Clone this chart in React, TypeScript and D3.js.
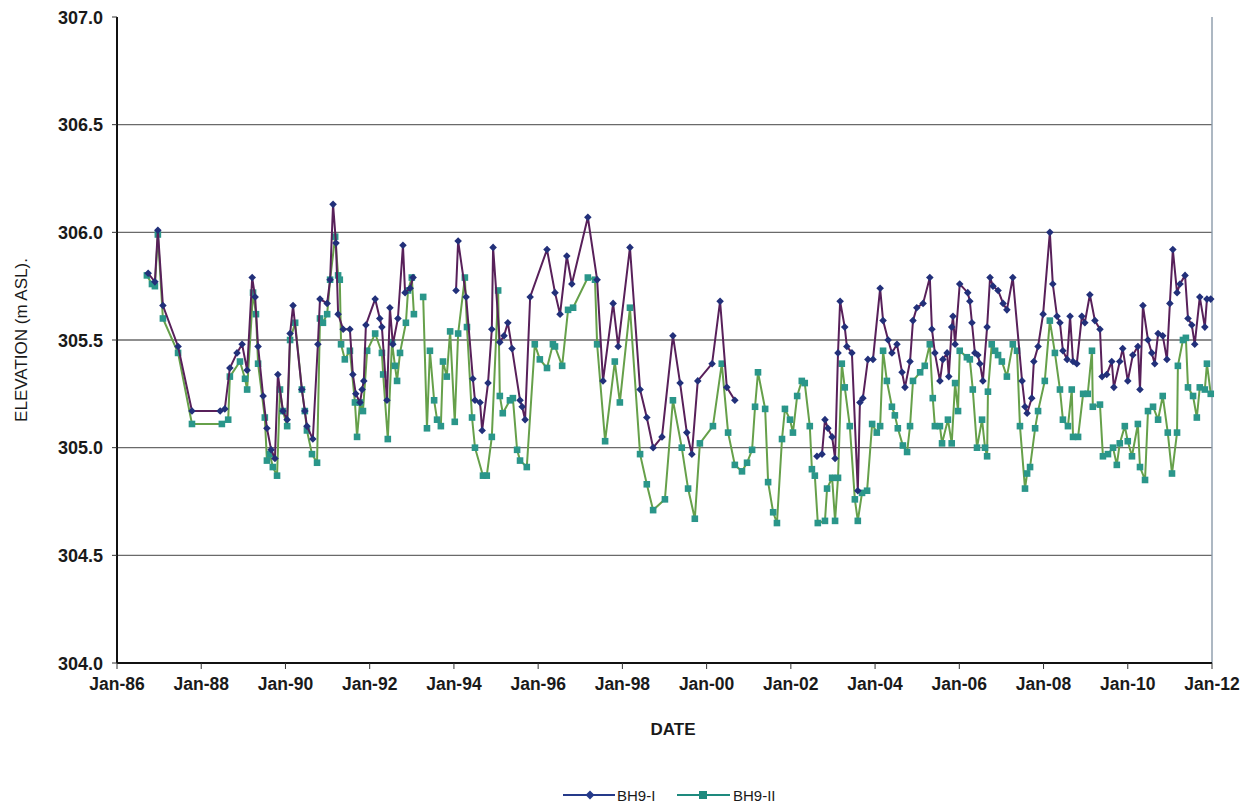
import React from "react";
import * as d3 from "d3";

// ---- data (decimal year, elevation m ASL); null = gap in record ----
type Pt = [number, number] | null;

const BH9_I: Pt[] = [
  [1986.74, 305.81], [1986.9, 305.77], [1986.97, 306.01], [1987.09, 305.66], [1987.45, 305.47],
  [1987.78, 305.17], [1988.45, 305.17], [1988.56, 305.18], [1988.68, 305.37], [1988.85, 305.44],
  [1988.97, 305.48], [1989.09, 305.36], [1989.21, 305.79], [1989.28, 305.7], [1989.35, 305.47],
  [1989.47, 305.24], [1989.56, 305.09], [1989.66, 304.99], [1989.75, 304.95], [1989.82, 305.34],
  [1989.94, 305.17], [1990.04, 305.13], [1990.11, 305.53], [1990.18, 305.66], [1990.39, 305.27],
  [1990.46, 305.17], [1990.51, 305.1], [1990.65, 305.04], [1990.77, 305.48], [1990.82, 305.69],
  [1990.99, 305.67], [1991.06, 305.78], [1991.13, 306.13], [1991.2, 305.95], [1991.25, 305.62],
  [1991.37, 305.55], [1991.53, 305.55], [1991.6, 305.34], [1991.67, 305.25], [1991.77, 305.21],
  [1991.82, 305.27], [1991.86, 305.31], [1991.91, 305.57], [1992.13, 305.69], [1992.24, 305.6],
  [1992.29, 305.56], [1992.41, 305.22], [1992.48, 305.65], [1992.55, 305.48], [1992.67, 305.6],
  [1992.79, 305.94], [1992.84, 305.72], [1992.96, 305.74], [1993.03, 305.79],
  null,
  [1994.05, 305.73], [1994.1, 305.96], [1994.29, 305.7], [1994.45, 305.32], [1994.5, 305.22],
  [1994.62, 305.21], [1994.67, 305.08], [1994.81, 305.3], [1994.9, 305.55], [1994.93, 305.93],
  [1995.09, 305.49], [1995.19, 305.52], [1995.28, 305.58], [1995.38, 305.46], [1995.57, 305.22],
  [1995.62, 305.19], [1995.69, 305.13], [1995.81, 305.7], [1996.21, 305.92], [1996.4, 305.72],
  [1996.52, 305.62], [1996.68, 305.89], [1996.8, 305.76], [1997.18, 306.07], [1997.4, 305.78],
  [1997.54, 305.31], [1997.78, 305.67], [1997.9, 305.47], [1998.18, 305.93], [1998.42, 305.27],
  [1998.58, 305.14], [1998.73, 305.0], [1998.94, 305.05], [1999.2, 305.52], [1999.37, 305.3],
  [1999.53, 305.07], [1999.65, 304.97], [1999.79, 305.31], [2000.13, 305.39], [2000.32, 305.68],
  [2000.48, 305.28], [2000.67, 305.22],
  null,
  [2002.62, 304.96], [2002.74, 304.97], [2002.81, 305.13], [2002.88, 305.09], [2002.98, 305.05],
  [2003.05, 304.95], [2003.12, 305.44], [2003.17, 305.68], [2003.28, 305.56], [2003.33, 305.47],
  [2003.45, 305.44], [2003.59, 304.8], [2003.64, 305.21], [2003.71, 305.23], [2003.83, 305.41],
  [2003.95, 305.41], [2004.12, 305.74], [2004.19, 305.59], [2004.31, 305.5], [2004.4, 305.44],
  [2004.52, 305.48], [2004.64, 305.35], [2004.71, 305.28], [2004.83, 305.4], [2004.9, 305.59],
  [2004.99, 305.65], [2005.14, 305.67], [2005.3, 305.79], [2005.35, 305.55], [2005.42, 305.44],
  [2005.54, 305.31], [2005.61, 305.41], [2005.71, 305.44], [2005.75, 305.33], [2005.82, 305.56],
  [2005.85, 305.61], [2005.9, 305.48], [2006.01, 305.76], [2006.2, 305.72], [2006.25, 305.68],
  [2006.3, 305.58], [2006.37, 305.44], [2006.44, 305.43], [2006.49, 305.39], [2006.56, 305.31],
  [2006.66, 305.56], [2006.73, 305.79], [2006.8, 305.75], [2006.92, 305.73], [2007.04, 305.67],
  [2007.13, 305.64], [2007.27, 305.79], [2007.49, 305.31], [2007.56, 305.19], [2007.61, 305.16],
  [2007.72, 305.23], [2007.77, 305.4], [2007.87, 305.47], [2007.99, 305.62], [2008.15, 306.0],
  [2008.22, 305.76], [2008.32, 305.61], [2008.39, 305.58], [2008.46, 305.45], [2008.56, 305.41],
  [2008.63, 305.61], [2008.7, 305.4], [2008.79, 305.39], [2008.91, 305.61], [2008.98, 305.58],
  [2009.1, 305.71], [2009.22, 305.59], [2009.34, 305.55], [2009.39, 305.33], [2009.5, 305.34],
  [2009.62, 305.4], [2009.67, 305.28], [2009.81, 305.4], [2009.88, 305.46], [2010.0, 305.31],
  [2010.12, 305.43], [2010.24, 305.47], [2010.29, 305.27], [2010.36, 305.66], [2010.48, 305.5],
  [2010.57, 305.44], [2010.64, 305.39], [2010.72, 305.53], [2010.83, 305.52], [2010.93, 305.41],
  [2011.0, 305.67], [2011.07, 305.92], [2011.17, 305.72], [2011.24, 305.76], [2011.36, 305.8],
  [2011.43, 305.6], [2011.52, 305.57], [2011.59, 305.48], [2011.71, 305.7], [2011.83, 305.56],
  [2011.88, 305.69], [2011.97, 305.69],
];

const BH9_II: Pt[] = [
  [1986.71, 305.8], [1986.83, 305.76], [1986.9, 305.75], [1986.97, 305.99], [1987.09, 305.6],
  [1987.45, 305.44], [1987.78, 305.11], [1988.49, 305.11], [1988.64, 305.13], [1988.68, 305.33],
  [1988.92, 305.4], [1989.04, 305.32], [1989.09, 305.27], [1989.23, 305.72], [1989.3, 305.62],
  [1989.35, 305.39], [1989.51, 305.14], [1989.56, 304.94], [1989.63, 304.97], [1989.7, 304.91],
  [1989.8, 304.87], [1989.87, 305.27], [1989.94, 305.17], [1990.04, 305.1], [1990.11, 305.5],
  [1990.23, 305.58], [1990.39, 305.27], [1990.46, 305.17], [1990.51, 305.08], [1990.63, 304.97],
  [1990.75, 304.93], [1990.82, 305.6], [1990.89, 305.58], [1990.99, 305.62], [1991.06, 305.78],
  [1991.18, 305.98], [1991.25, 305.8], [1991.29, 305.78], [1991.32, 305.48], [1991.41, 305.41],
  [1991.53, 305.45], [1991.65, 305.21], [1991.7, 305.05], [1991.77, 305.21], [1991.84, 305.17],
  [1991.94, 305.45], [1992.13, 305.53], [1992.29, 305.44], [1992.32, 305.34], [1992.43, 305.04],
  [1992.53, 305.49], [1992.6, 305.38], [1992.65, 305.31], [1992.72, 305.44], [1992.86, 305.58],
  [1992.91, 305.73], [1993.0, 305.79], [1993.05, 305.62],
  null,
  [1993.27, 305.7], [1993.36, 305.09], [1993.43, 305.45], [1993.53, 305.22], [1993.6, 305.13],
  [1993.69, 305.1], [1993.74, 305.4], [1993.83, 305.33], [1993.91, 305.54], [1994.02, 305.12],
  [1994.1, 305.53], [1994.26, 305.79], [1994.31, 305.56], [1994.43, 305.14], [1994.5, 305.0],
  [1994.69, 304.87], [1994.78, 304.87], [1994.9, 305.05], [1995.05, 305.73], [1995.09, 305.24],
  [1995.16, 305.16], [1995.33, 305.22], [1995.4, 305.23], [1995.5, 304.99], [1995.57, 304.94],
  [1995.73, 304.91], [1995.92, 305.48], [1996.04, 305.41], [1996.21, 305.37], [1996.35, 305.48],
  [1996.4, 305.47], [1996.57, 305.38], [1996.71, 305.64], [1996.83, 305.65], [1997.18, 305.79],
  [1997.35, 305.78], [1997.4, 305.48], [1997.59, 305.03], [1997.82, 305.4], [1997.94, 305.21],
  [1998.18, 305.65], [1998.42, 304.97], [1998.58, 304.83], [1998.73, 304.71], [1999.01, 304.76],
  [1999.2, 305.22], [1999.41, 305.0], [1999.56, 304.81], [1999.72, 304.67], [1999.84, 305.02],
  [2000.15, 305.1], [2000.36, 305.39], [2000.51, 305.07], [2000.67, 304.92], [2000.84, 304.89],
  [2000.96, 304.93], [2001.08, 304.99], [2001.15, 305.19], [2001.22, 305.35], [2001.39, 305.18],
  [2001.46, 304.84], [2001.58, 304.7], [2001.67, 304.65], [2001.79, 305.04], [2001.86, 305.18],
  [2001.98, 305.13], [2002.05, 305.07], [2002.15, 305.24], [2002.26, 305.31], [2002.33, 305.3],
  [2002.45, 305.1], [2002.5, 304.9], [2002.57, 304.87], [2002.64, 304.65], [2002.81, 304.66],
  [2002.86, 304.81], [2002.98, 304.86], [2003.05, 304.66], [2003.12, 304.86], [2003.21, 305.39],
  [2003.28, 305.28], [2003.4, 305.1], [2003.52, 304.76], [2003.59, 304.66], [2003.69, 304.79],
  [2003.81, 304.8], [2003.93, 305.11], [2004.04, 305.07], [2004.12, 305.1], [2004.19, 305.45],
  [2004.28, 305.31], [2004.4, 305.19], [2004.47, 305.15], [2004.54, 305.09], [2004.66, 305.01],
  [2004.76, 304.98], [2004.83, 305.1], [2004.9, 305.31], [2005.07, 305.35], [2005.18, 305.38],
  [2005.3, 305.48], [2005.37, 305.23], [2005.42, 305.1], [2005.54, 305.1], [2005.59, 305.02],
  [2005.73, 305.13], [2005.82, 305.02], [2005.9, 305.3], [2005.97, 305.17], [2006.01, 305.45],
  [2006.18, 305.42], [2006.25, 305.41], [2006.32, 305.27], [2006.42, 305.0], [2006.54, 305.13],
  [2006.61, 305.0], [2006.66, 304.96], [2006.68, 305.26], [2006.77, 305.48], [2006.85, 305.45],
  [2006.92, 305.43], [2007.01, 305.4], [2007.13, 305.33], [2007.27, 305.48], [2007.37, 305.45],
  [2007.44, 305.1], [2007.56, 304.81], [2007.61, 304.88], [2007.68, 304.91], [2007.8, 305.09],
  [2007.87, 305.17], [2008.03, 305.31], [2008.15, 305.59], [2008.27, 305.44], [2008.39, 305.27],
  [2008.46, 305.13], [2008.58, 305.1], [2008.67, 305.27], [2008.7, 305.05], [2008.82, 305.05],
  [2008.94, 305.25], [2009.05, 305.25], [2009.15, 305.45], [2009.17, 305.19], [2009.34, 305.2],
  [2009.41, 304.96], [2009.53, 304.97], [2009.65, 305.0], [2009.74, 304.92], [2009.81, 305.02],
  [2009.93, 305.1], [2010.0, 305.03], [2010.1, 304.96], [2010.24, 305.11], [2010.29, 304.91],
  [2010.41, 304.85], [2010.48, 305.17], [2010.6, 305.19], [2010.72, 305.13], [2010.83, 305.24],
  [2010.95, 305.07], [2011.05, 304.88], [2011.17, 305.07], [2011.19, 305.38], [2011.31, 305.5],
  [2011.38, 305.51], [2011.43, 305.28], [2011.55, 305.24], [2011.64, 305.14], [2011.71, 305.28],
  [2011.83, 305.27], [2011.88, 305.39], [2011.97, 305.25],
];

const X_TICKS = [1986, 1988, 1990, 1992, 1994, 1996, 1998, 2000, 2002, 2004, 2006, 2008, 2010, 2012];
const Y_TICKS = [304.0, 304.5, 305.0, 305.5, 306.0, 306.5, 307.0];
const SERIES_NAMES = ["BH9-I", "BH9-II"];

const W = 1256;
const H = 809;
const M = { left: 117, right: 1212, top: 17, bottom: 663 };

export default function App() {
  const x = d3.scaleLinear().domain([1986, 2012]).range([M.left, M.right]);
  const y = d3.scaleLinear().domain([304, 307]).range([M.bottom, M.top]);

  const line = d3
    .line<Pt>()
    .defined((d) => d !== null)
    .x((d) => x((d as [number, number])[0]))
    .y((d) => y((d as [number, number])[1]));

  const font = "'Liberation Sans', Arial, sans-serif";
  const c1Line = "#58205a";
  const c1Mark = "#22307a";
  const c2Line = "#66a04a";
  const c2Mark = "#2a968a";

  const pts1 = BH9_I.filter((d) => d !== null) as [number, number][];
  const pts2 = BH9_II.filter((d) => d !== null) as [number, number][];

  const diamond = (cx: number, cy: number, r: number) =>
    `M${cx},${cy - r}L${cx + r},${cy}L${cx},${cy + r}L${cx - r},${cy}Z`;

  return (
    <svg
      width={W}
      height={H}
      style={{ position: "absolute", left: 0, top: 0, background: "#fff" }}
      fontFamily={font}
    >
      <rect x={0} y={0} width={W} height={H} fill="#fff" />
      {/* gridlines */}
      {Y_TICKS.filter((v) => v > 304 && v < 307).map((v) => (
        <line key={"g" + v} x1={M.left} x2={M.right} y1={y(v)} y2={y(v)} stroke="#6a6a6a" strokeWidth={1.4} />
      ))}
      {/* right border */}
      <line x1={M.right} x2={M.right} y1={M.top} y2={M.bottom} stroke="#8a9aaa" strokeWidth={1.4} />

      {/* series II */}
      <path d={line(BH9_II) || ""} fill="none" stroke={c2Line} strokeWidth={2} />
      {pts2.map((d, i) => (
        <rect key={"s" + i} x={x(d[0]) - 3.3} y={y(d[1]) - 3.3} width={6.6} height={6.6} fill={c2Mark} />
      ))}
      {/* series I */}
      <path d={line(BH9_I) || ""} fill="none" stroke={c1Line} strokeWidth={2} />
      {pts1.map((d, i) => (
        <path key={"d" + i} d={diamond(x(d[0]), y(d[1]), 3.8)} fill={c1Mark} />
      ))}

      {/* axes */}
      <line x1={M.left} x2={M.left} y1={M.top} y2={M.bottom} stroke="#111" strokeWidth={2} />
      <line x1={M.left} x2={M.right} y1={M.bottom} y2={M.bottom} stroke="#111" strokeWidth={2} />
      {Y_TICKS.map((v) => (
        <g key={"yt" + v}>
          <line x1={M.left - 5} x2={M.left} y1={y(v)} y2={y(v)} stroke="#333" strokeWidth={1} />
          <text x={103} y={y(v) + 6.5} textAnchor="end" fontSize={18} fontWeight="bold" fill="#1a1a1a">
            {d3.format(".1f")(v)}
          </text>
        </g>
      ))}
      {X_TICKS.map((t) => (
        <g key={"xt" + t}>
          <line x1={x(t)} x2={x(t)} y1={M.bottom} y2={M.bottom + 6} stroke="#333" strokeWidth={1} />
          <text x={x(t)} y={M.bottom + 27} textAnchor="middle" fontSize={17.5} fontWeight="bold" fill="#1a1a1a">
            {"Jan-" + String(t % 100).padStart(2, "0")}
          </text>
        </g>
      ))}

      {/* axis titles */}
      <text x={673} y={735} textAnchor="middle" fontSize={17} fontWeight="bold" fill="#1a1a1a">
        DATE
      </text>
      <text
        transform={`translate(27, ${340}) rotate(-90)`}
        textAnchor="middle"
        fontSize={17}
        fill="#1a1a1a"
      >
        ELEVATION (m ASL).
      </text>

      {/* legend */}
      <g>
        <line x1={563} x2={615} y1={795} y2={795} stroke="#253a8a" strokeWidth={2} />
        <path d={diamond(590, 795, 4.5)} fill="#253a8a" />
        <text x={617} y={801} fontSize={15} fill="#1a1a1a">
          {SERIES_NAMES[0]}
        </text>
        <line x1={677} x2={730} y1={795} y2={795} stroke="#1e8a7e" strokeWidth={2} />
        <rect x={699} y={791} width={8} height={8} fill="#1e8a7e" />
        <text x={733} y={801} fontSize={15} fill="#1a1a1a">
          {SERIES_NAMES[1]}
        </text>
      </g>
    </svg>
  );
}
